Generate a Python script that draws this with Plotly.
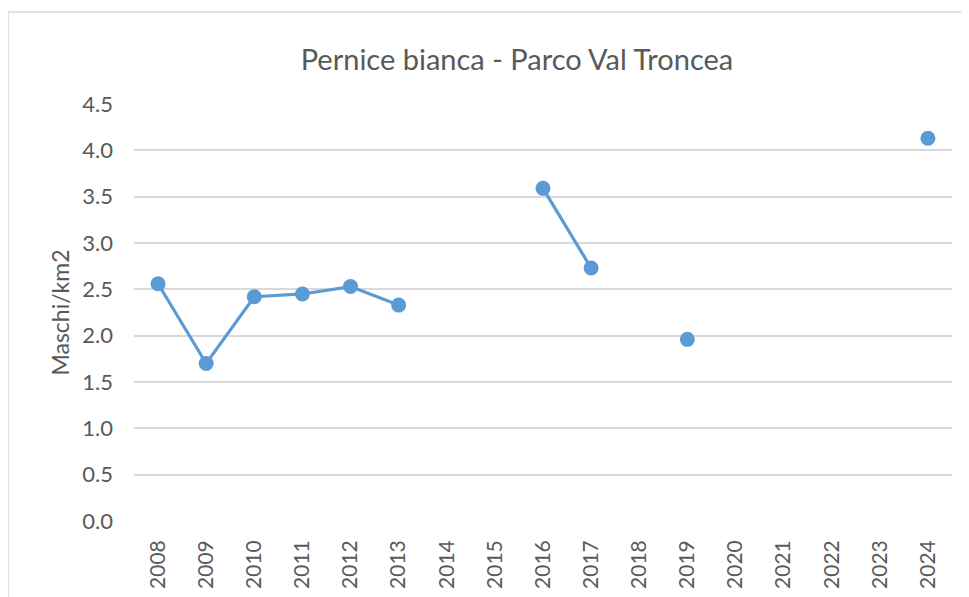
import plotly.graph_objects as go

years = [str(y) for y in range(2008, 2025)]
values = [2.56, 1.70, 2.42, 2.45, 2.53, 2.33, None, None, 3.59, 2.73, None, 1.96,
          None, None, None, None, 4.13]
y_ticks = [0, 0.5, 1.0, 1.5, 2.0, 2.5, 3.0, 3.5, 4.0, 4.5]

TXT = "#595959"
FONT = "Lato"

# page body has an 8px margin: figure origin is at (8, 8) in the screenshot
OFF = 8
L, R, T, B = 134, 952, 104, 521  # plot area in screenshot pixels
W, H = 969 - OFF, 597 - OFF
PW, PH = R - L, B - T

def px(xs):
    return (xs - L) / PW

def py(ys):
    return (B - ys) / PH

fig = go.Figure()
fig.add_trace(go.Scatter(
    x=years, y=values, mode="lines+markers",
    line=dict(color="#5B9BD5", width=3.2),
    marker=dict(color="#5B9BD5", size=15),
    connectgaps=False, hoverinfo="x+y", showlegend=False,
))

fig.update_layout(
    width=W, height=H,
    margin=dict(l=L - OFF, r=W - (R - OFF), t=T - OFF, b=H - (B - OFF), autoexpand=False),
    paper_bgcolor="white", plot_bgcolor="white",
    font=dict(family=FONT, color=TXT, size=21),
    title=dict(text="Pernice bianca - Parco Val Troncea", xref="paper", x=px(517),
               xanchor="center", yref="container", y=1 - (60 - OFF) / H, yanchor="middle",
               font=dict(family=FONT, size=29, color=TXT)),
    xaxis=dict(type="category", categoryorder="array", categoryarray=years,
               range=[-0.5, len(years) - 0.5],
               tickangle=-90, showgrid=False, zeroline=False, showline=False,
               ticks="", ticklen=0, ticklabelstandoff=14,
               tickfont=dict(size=21, color=TXT)),
    yaxis=dict(range=[0, 4.5], tickvals=y_ticks,
               ticktext=[f"{v:.1f}" for v in y_ticks],
               showgrid=True, gridcolor="#D9D9D9", gridwidth=1.5,
               zeroline=False, showline=False, ticks="", ticklen=0,
               ticklabelstandoff=20,
               tickfont=dict(size=22, color=TXT),
               title=dict(text="Maschi/km2", font=dict(size=23, color=TXT), standoff=6)),
    shapes=[
        dict(type="line", xref="paper", yref="paper",
             x0=px(8), x1=1.1, y0=py(12), y1=py(12),
             line=dict(color="#D9D9D9", width=1.5)),
        dict(type="line", xref="paper", yref="paper",
             x0=px(8), x1=px(8), y0=py(12), y1=-0.3,
             line=dict(color="#D9D9D9", width=1.5)),
    ],
)

fig.write_html("out.html")
